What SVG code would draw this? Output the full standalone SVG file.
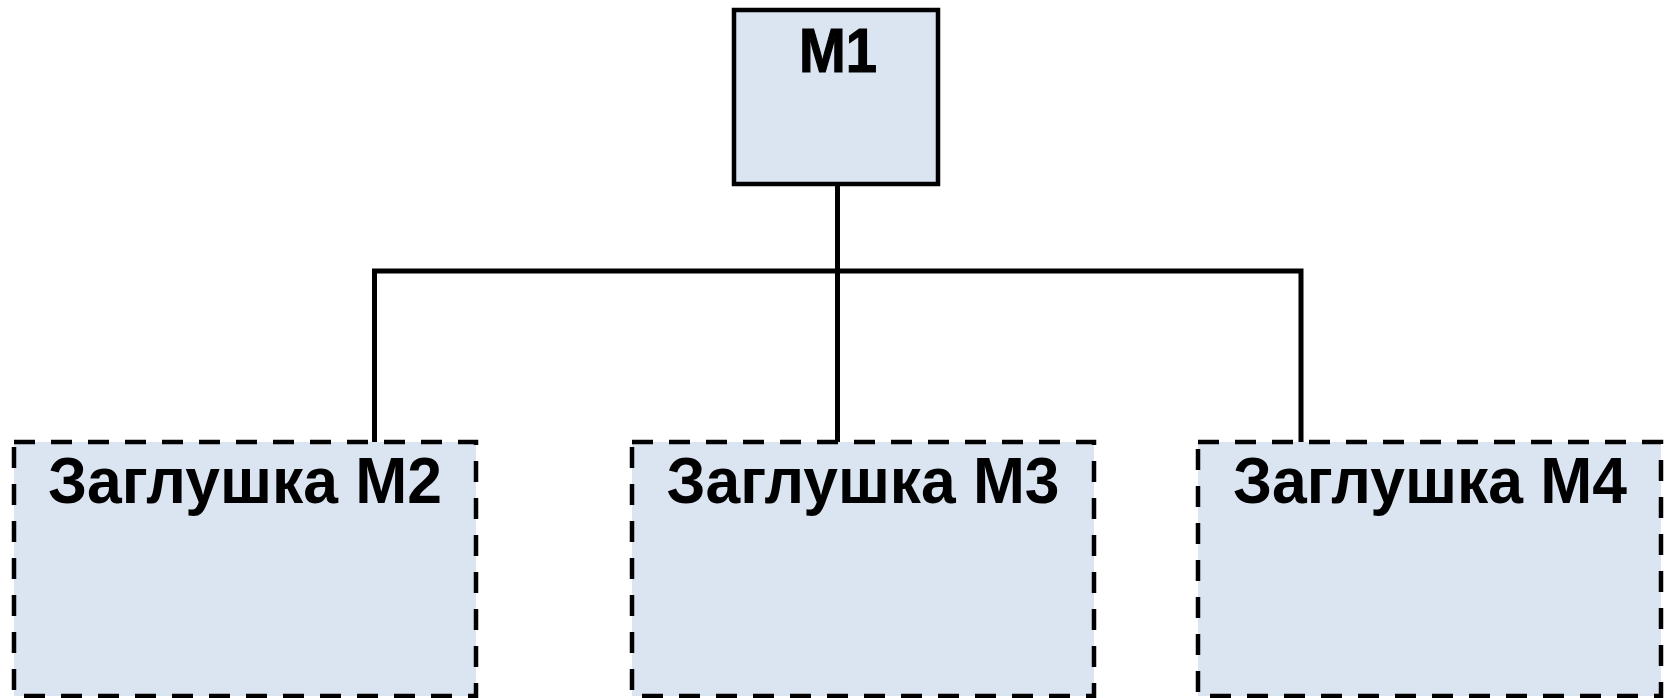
<svg xmlns="http://www.w3.org/2000/svg" width="1670" height="698" viewBox="0 0 1670 698">
  <style>
    .box { fill: #DBE4F1; stroke: #000; stroke-width: 4.5; }
    .stub { stroke-dasharray: 21 16; }
    .label { font-family: "Liberation Sans", Arial, sans-serif; font-weight: bold; fill: #000; text-anchor: middle; }
    .wire { fill: none; stroke: #000; stroke-width: 5; stroke-linecap: butt; stroke-linejoin: miter; }
  </style>
  <rect width="1670" height="698" fill="#fff"/>

  <g id="connectors">
    <line class="wire" x1="837.5" y1="186" x2="837.5" y2="442"/>
    <polyline class="wire" points="374.5,442 374.5,271 1301,271 1301,442"/>
  </g>

  <g id="node-m1">
    <rect class="box" x="734" y="10" width="204" height="174"/>
    <text class="label" x="838" y="72" font-size="63" stroke="#000" stroke-width="1.2" textLength="78" lengthAdjust="spacingAndGlyphs">M1</text>
  </g>

  <g id="node-m2">
    <rect class="box stub" x="14" y="442" width="462" height="254"/>
    <text class="label" x="245" y="503" font-size="64" textLength="394" lengthAdjust="spacingAndGlyphs">Заглушка M2</text>
  </g>

  <g id="node-m3">
    <rect class="box stub" x="632" y="442" width="462" height="254"/>
    <text class="label" x="863" y="503" font-size="64" textLength="393" lengthAdjust="spacingAndGlyphs">Заглушка M3</text>
  </g>

  <g id="node-m4">
    <rect class="box stub" x="1198" y="442" width="463" height="254"/>
    <text class="label" x="1430" y="503" font-size="64" textLength="394" lengthAdjust="spacingAndGlyphs">Заглушка M4</text>
  </g>
</svg>
